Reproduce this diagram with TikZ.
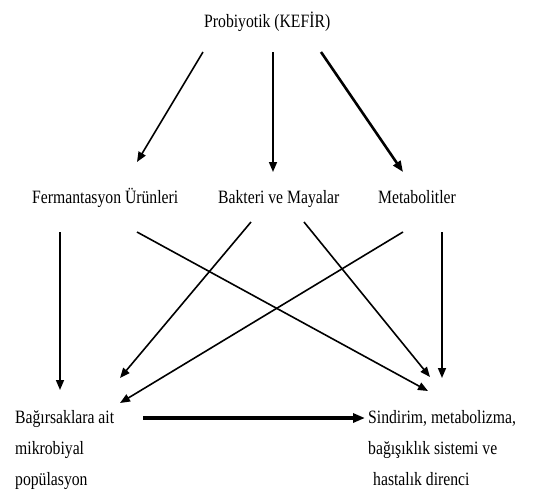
\documentclass[tikz,border=0pt]{standalone}
\usepackage{fontspec}
\setmainfont{Liberation Serif}
\usetikzlibrary{arrows.meta}
\newcommand{\tallt}[1]{\scalebox{1}[1.2]{#1}}
\begin{document}
\begin{tikzpicture}[x=1pt,y=-1pt,
  lbl/.style={inner sep=0pt,anchor=base west,font=\fontsize{15.7}{18}\selectfont},
  arr/.style={line width=1.6pt,-{Triangle[length=10pt,width=8pt]}},
  thick arr/.style={line width=2.6pt,-{Triangle[length=11pt,width=8.5pt]}},
  heavy arr/.style={line width=3.2pt,-{Triangle[length=12pt,width=9pt]}}]
\useasboundingbox (0,0) rectangle (539,493);
% texts
\node[lbl] (kef) at (204,27) {\tallt{Probiyotik (KEFİR)}};
\node[lbl] (fer) at (32,203) {\tallt{Fermantasyon Ürünleri}};
\node[lbl] (bak) at (218,203) {\tallt{Bakteri ve Mayalar}};
\node[lbl] (met) at (378,203) {\tallt{Metabolitler}};
\node[lbl] (bag1) at (15,423) {\tallt{Bağırsaklara ait}};
\node[lbl] (bag2) at (15,454) {\tallt{mikrobiyal}};
\node[lbl] (bag3) at (15,485) {\tallt{popülasyon}};
\node[lbl] (sin1) at (368,423) {\tallt{Sindirim, metabolizma,}};
\node[lbl] (sin2) at (368,454) {\tallt{bağışıklık sistemi ve}};
\node[lbl] (sin3) at (373,485) {\tallt{hastalık direnci}};
% connector end points
\coordinate (k1) at (203,52);  \coordinate (f0) at (137,162);
\coordinate (k2) at (273,52);  \coordinate (b0) at (273,172);
\coordinate (k3) at (321,52);  \coordinate (m0) at (403,172);
\coordinate (f1) at (60,232);  \coordinate (g1) at (60,390);
\coordinate (f2) at (137,232); \coordinate (s1) at (428,391);
\coordinate (b1) at (251,222); \coordinate (g2) at (120,378);
\coordinate (b2) at (304,222); \coordinate (s2) at (430,377);
\coordinate (m1) at (403,232); \coordinate (g3) at (120,403);
\coordinate (m2) at (442,232); \coordinate (s3) at (442,378);
\coordinate (g4) at (143,418); \coordinate (s4) at (365,418);
% connectors
\draw[arr] (k1) -- (f0);
\draw[arr] (k2) -- (b0);
\draw[thick arr] (k3) -- (m0);
\draw[arr] (f1) -- (g1);
\draw[arr] (f2) -- (s1);
\draw[arr] (b1) -- (g2);
\draw[arr] (b2) -- (s2);
\draw[arr] (m1) -- (g3);
\draw[arr] (m2) -- (s3);
\draw[heavy arr] (g4) -- (s4);
\end{tikzpicture}
\end{document}
